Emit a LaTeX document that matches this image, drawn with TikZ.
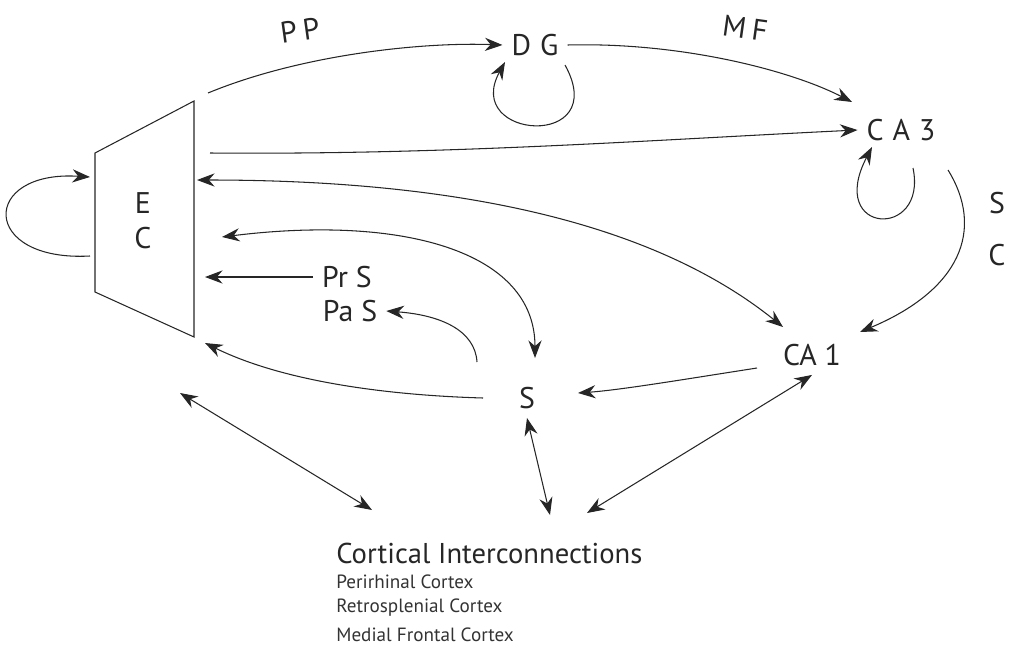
\documentclass[tikz,border=0pt]{standalone}
\usepackage{fontspec}
\setmainfont{PT Sans}
\usetikzlibrary{arrows.meta}

\begin{document}
\begin{tikzpicture}[x=0.02cm, y=-0.02cm,
  >={Stealth[length=10pt,width=7.5pt]},
  conn/.style={line width=0.6pt, black!85},
  lbl/.style={inner sep=5pt, font=\fontsize{17}{20}\selectfont, text=black!85},
  sub/.style={inner sep=0pt, anchor=west, font=\fontsize{10.9}{13}\selectfont, text=black!80}]

  \useasboundingbox (0,0) rectangle (1013,649);

  % entorhinal cortex (trapezoid)
  \draw[conn] (95,153) -- (194,101) -- (194,337) -- (95,292) -- cycle;
  \node[lbl] (ecE) at (143,203) {E};
  \node[lbl] (ecC) at (143,238) {C};

  % free ends on the trapezoid
  \coordinate (ecLoopIn)  at (90,177);
  \coordinate (ecLoopOut) at (90,256);
  \coordinate (ecPP)   at (208,93);
  \coordinate (ecCA3)  at (210,153);
  \coordinate (ecCA1)  at (197,180);
  \coordinate (ecSup)  at (222,237);
  \coordinate (ecPrS)  at (205,277);
  \coordinate (ecSlow) at (205,343);
  \coordinate (ecCort) at (180,393);

  % hippocampal regions
  \node[lbl] (dg)  at (535,45)  {D\hspace{0.3em}G};
  \node[lbl] (ca3) at (901,130) {C\hspace{0.3em}A\hspace{0.3em}3};
  \node[lbl] (ca1) at (812,355) {CA 1};
  \node[lbl] (sub) at (527,398) {S};
  \node[lbl] (prs) at (347,277) {Pr S};
  \node[lbl] (pas) at (350,311) {Pa S};

  % pathway labels
  \node[lbl, rotate=8]  (pp) at (300,30)  {P\hspace{0.2em}P};
  \node[lbl, rotate=-8] (mf) at (745,28)  {M\hspace{0.2em}F};
  \node[lbl] (scS) at (997,203) {S};
  \node[lbl] (scC) at (997,255) {C};

  % cortical interconnections
  \node[inner sep=0pt, anchor=west, font=\fontsize{16.3}{19}\selectfont, text=black!85]
    (cort) at (336,553) {Cortical Interconnections};
  \node[sub] (peri)  at (336,582) {Perirhinal Cortex};
  \node[sub] (retro) at (336,608) {Retrosplenial Cortex};
  \node[sub] (mfc)   at (336,635) {Medial Frontal Cortex};

  % loop ends and other free ends
  \coordinate (dgLoopOut)  at (565,65);
  \coordinate (dgLoopIn)   at (505,62);
  \coordinate (mfEnd)      at (852,102);
  \coordinate (ca3LoopOut) at (913,168);
  \coordinate (ca3LoopIn)  at (872,147);
  \coordinate (scOut)      at (948,170);
  \coordinate (scIn)       at (860,332);
  \coordinate (ca1EC)      at (783,327);
  \coordinate (subTop)     at (535,358);
  \coordinate (subPaS)     at (477,362);
  \coordinate (subEC)      at (483,398);
  \coordinate (ca1Out)     at (757,368);
  \coordinate (subIn)      at (578,393);
  \coordinate (cortS)      at (550,515);
  \coordinate (cortCA1)    at (587,513);
  \coordinate (cortEC)     at (372,510);

  % trisynaptic loop
  \draw[conn, ->] (ecLoopOut) .. controls (-20,262) and (-20,170) .. (ecLoopIn);
  \draw[conn, ->] (ecPP) .. controls (300,55) and (420,42) .. (dg.west);
  \draw[conn, ->] (dg.east) .. controls (680,42) and (790,70) .. (mfEnd);
  \draw[conn, ->] (dgLoopOut) .. controls (612,150) and (462,140) .. (dgLoopIn);
  \draw[conn, ->] (ecCA3) .. controls (450,155) and (650,140) .. (ca3.west);
  \draw[conn, ->] (ca3LoopOut) .. controls (928,240) and (826,235) .. (ca3LoopIn);
  \draw[conn, ->] (scOut) .. controls (985,230) and (960,290) .. (scIn);

  % output to EC and subiculum
  \draw[conn, <->] (ecCA1) .. controls (450,180) and (650,220) .. (ca1EC);
  \draw[conn, <->] (ecSup) .. controls (400,215) and (535,250) .. (subTop);
  \draw[conn, ->] (prs.west) -- (ecPrS);
  \draw[conn, ->] (subPaS) .. controls (475,330) and (440,315) .. (pas.east);
  \draw[conn, ->] (subEC) .. controls (380,395) and (280,380) .. (ecSlow);
  \draw[conn, ->] (ca1Out) .. controls (680,380) and (620,390) .. (subIn);

  % cortical links
  \draw[conn, <->] (sub.south) -- (cortS);
  \draw[conn, <->] (ca1.south) -- (cortCA1);
  \draw[conn, <->] (ecCort) -- (cortEC);

\end{tikzpicture}
\end{document}
